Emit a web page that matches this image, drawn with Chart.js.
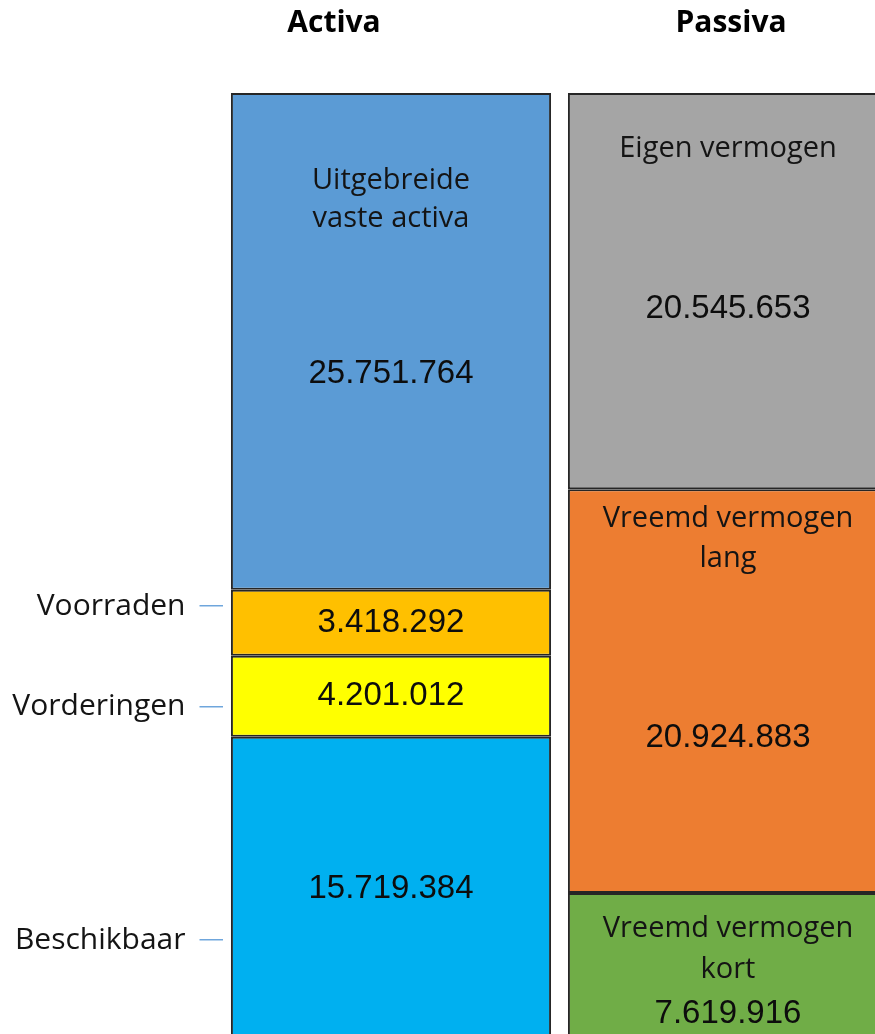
<!DOCTYPE html>
<html>
<head>
<meta charset="utf-8">
<script src="https://cdn.jsdelivr.net/npm/chart.js@4"></script>
<style>
  html, body { margin: 0; padding: 0; background: #fff; overflow: hidden; }
  #balans { position: absolute; left: 0; top: 0; }
</style>
</head>
<body>
<canvas id="balans" width="900" height="1045"></canvas>
<script>
// balans data
const columns = ['Activa', 'Passiva'];
const activaNames = ['Beschikbaar', 'Vorderingen', 'Voorraden', 'Uitgebreide vaste activa'];
const activaValues = [15719384, 4201012, 3418292, 25751764];
const activaLines = [[], [], [], ['Uitgebreide', 'vaste activa']];
const passivaNames = ['Vreemd vermogen kort', 'Vreemd vermogen lang', 'Eigen vermogen'];
const passivaValues = [7619916, 20924883, 20545653];
const passivaLines = [['Vreemd vermogen', 'kort'], ['Vreemd vermogen', 'lang'], ['Eigen vermogen']];
const sideLabels = ['Voorraden', 'Vorderingen', 'Beschikbaar'];
const sideLabelValues = [22500000, 17300000, 5180000];

const activaColors = ['#00B0F0', '#FFFF00', '#FFC000', '#5B9BD5'];
const passivaColors = ['#70AD47', '#ED7D31', '#A5A5A5'];

// offsets (px from the top of each block) for the texts inside the bars
const activaTextPos = [
    { lines: [], number: 152 },
    { lines: [], number: 40 },
    { lines: [], number: 33 },
    { lines: [88, 126], number: 281 },
];
const passivaTextPos = [
    { lines: [36, 77], number: 121 },
    { lines: [29, 69], number: 249 },
    { lines: [56], number: 216 },
];
const titleShift = [-57, 3];

const total = activaValues.reduce((a, b) => a + b, 0);

function fmt(v) {
    return String(v).replace(/\B(?=(\d{3})+(?!\d))/g, '.');
}

const datasets = [];
activaNames.forEach((name, i) => {
    datasets.push({
        label: name,
        data: [activaValues[i], null],
        backgroundColor: activaColors[i],
        lines: activaLines[i],
        pos: activaTextPos[i],
    });
});
passivaNames.forEach((name, i) => {
    datasets.push({
        label: name,
        data: [null, passivaValues[i]],
        backgroundColor: passivaColors[i],
        lines: passivaLines[i],
        pos: passivaTextPos[i],
    });
});
datasets.forEach(ds => {
    ds.borderColor = '#262626';
    ds.borderWidth = 2;
    ds.borderSkipped = false;
    ds.barPercentage = 0.95;
    ds.categoryPercentage = 1;
});

const barText = {
    id: 'barText',
    afterDatasetsDraw(chart) {
        const ctx = chart.ctx;
        ctx.save();
        ctx.textAlign = 'center';
        ctx.textBaseline = 'middle';
        chart.data.datasets.forEach((ds, di) => {
            const meta = chart.getDatasetMeta(di);
            ds.data.forEach((v, idx) => {
                if (v == null) return;
                const bar = meta.data[idx];
                const top = Math.min(bar.y, bar.base);
                ctx.fillStyle = '#141414';
                ctx.font = '29px "Open Sans", sans-serif';
                ds.lines.forEach((line, li) => {
                    ctx.fillText(line, bar.x, top + ds.pos.lines[li]);
                });
                ctx.fillStyle = '#0d0d0d';
                ctx.font = '33px "Liberation Sans", Arial, sans-serif';
                ctx.fillText(fmt(v), bar.x, top + ds.pos.number);
            });
        });
        // column titles
        const xs = chart.scales.x;
        ctx.fillStyle = '#000';
        ctx.font = 'bold 30px "Open Sans", sans-serif';
        columns.forEach((c, i) => {
            ctx.fillText(c, xs.getPixelForValue(i) + titleShift[i], 23);
        });
        ctx.restore();
    }
};

new Chart(document.getElementById('balans'), {
    type: 'bar',
    data: { labels: columns, datasets },
    options: {
        responsive: false,
        animation: false,
        devicePixelRatio: 1,
        layout: { padding: { top: 93, right: 3.5, bottom: 5, left: 0 } },
        plugins: {
            legend: { display: false },
            tooltip: { enabled: false },
        },
        scales: {
            x: {
                stacked: true,
                display: false,
            },
            y: {
                stacked: true,
                min: 0,
                max: total,
                afterFit(scale) {
                    scale.width = 222.5;
                    scale.paddingTop = 0;
                    scale.paddingBottom = 0;
                },
                afterBuildTicks(scale) {
                    scale.ticks = sideLabelValues.map(v => ({ value: v }));
                },
                border: { display: false },
                grid: {
                    drawOnChartArea: false,
                    tickLength: 23,
                    color: '#6fa6dc',
                    lineWidth: 1.5,
                },
                ticks: {
                    padding: 14,
                    color: '#141414',
                    font: { family: '"Open Sans", sans-serif', size: 30 },
                    callback: (v, i) => sideLabels[i],
                },
            },
        },
    },
    plugins: [barText],
});
</script>
</body>
</html>
